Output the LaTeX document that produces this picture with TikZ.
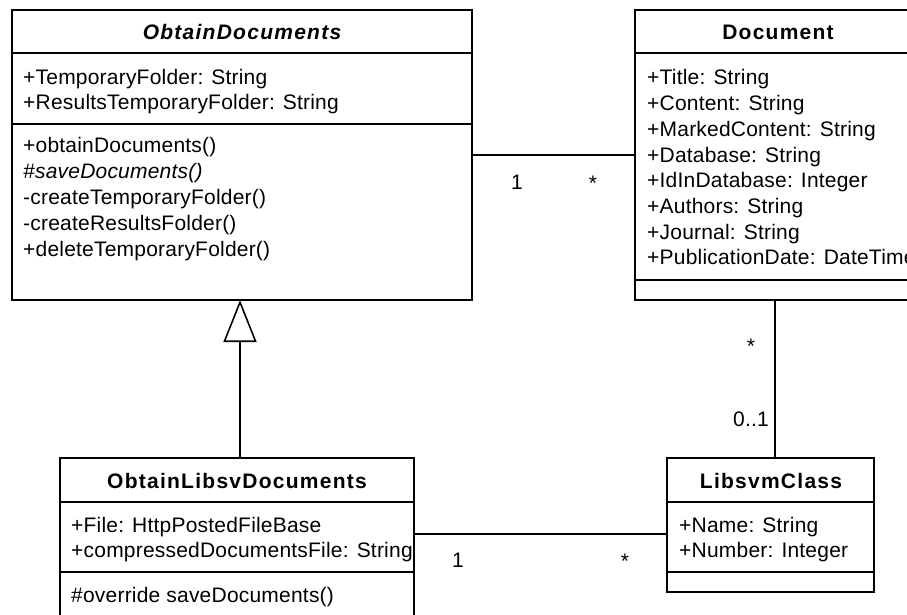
\documentclass[tikz,border=0pt]{standalone}
\usepackage{fontspec}
\setmainfont[LetterSpace=1]{Liberation Sans}
\newfontfamily\headfont[LetterSpace=6]{Liberation Sans}
\usetikzlibrary{arrows.meta}

\tikzset{
  classbox/.style={draw, line width=1.6pt, fill=white, outer sep=0pt, inner sep=0pt},
  divider/.style={line width=1.6pt},
  assoc/.style={line width=1.6pt},
  inherit/.style={line width=1.6pt, -{Triangle[open, length=42pt, width=33pt]}},
  member/.style={anchor=base west, inner sep=0pt, font=\fontsize{21}{26}\selectfont},
  classname/.style={anchor=base, inner sep=0pt, font=\headfont\bfseries\fontsize{21}{26}\selectfont},
  mult/.style={anchor=base, inner sep=0pt, font=\fontsize{21}{26}\selectfont},
}

\begin{document}
\begin{tikzpicture}[x=1pt, y=-1pt]
  \useasboundingbox (0,0) rectangle (907,615);
  \clip (0,0) rectangle (907,615);
  \fill[white] (0,0) rectangle (907,615);

  % class boxes
  \node[classbox, minimum width=460pt, minimum height=290pt] (od)  at (242,155) {};
  \node[classbox, minimum width=280pt, minimum height=290pt] (doc) at (775,155) {};
  \node[classbox, minimum width=354pt, minimum height=172pt] (oll) at (237,544) {};
  \node[classbox, minimum width=207pt, minimum height=134pt] (lc)  at (770.5,525) {};

  % compartment dividers
  \draw[divider] ([yshift=-43pt]od.north west) -- ([yshift=-43pt]od.north east);
  \draw[divider] ([yshift=-114pt]od.north west) -- ([yshift=-114pt]od.north east);
  \draw[divider] ([yshift=-43pt]doc.north west) -- ([yshift=-43pt]doc.north east);
  \draw[divider] ([yshift=-270pt]doc.north west) -- ([yshift=-270pt]doc.north east);
  \draw[divider] ([yshift=-44pt]oll.north west) -- ([yshift=-44pt]oll.north east);
  \draw[divider] ([yshift=-114pt]oll.north west) -- ([yshift=-114pt]oll.north east);
  \draw[divider] ([yshift=-44pt]lc.north west) -- ([yshift=-44pt]lc.north east);
  \draw[divider] ([yshift=-114pt]lc.north west) -- ([yshift=-114pt]lc.north east);

  % ObtainDocuments
  \node[classname] (odName) at (242,40) {\itshape ObtainDocuments};
  \node[member] (odA1) at (23,85)  {+TemporaryFolder: String};
  \node[member] (odA2) at (23,110) {+ResultsTemporaryFolder: String};
  \node[member] (odM1) at (23,153)    {+obtainDocuments()};
  \node[member] (odM2) at (23,178.75) {\itshape \#saveDocuments()};
  \node[member] (odM3) at (23,204.5)  {-createTemporaryFolder()};
  \node[member] (odM4) at (23,230.25) {-createResultsFolder()};
  \node[member] (odM5) at (23,256)    {+deleteTemporaryFolder()};

  % Document
  \node[classname] (docName) at (778,40) {Document};
  \foreach \txt [count=\i from 0] in {%
      +Title: String,
      +Content: String,
      +MarkedContent: String,
      +Database: String,
      +IdInDatabase: Integer,
      +Authors: String,
      +Journal: String,
      +PublicationDate: DateTime}
    \node[member] (docA\i) at (647,85+25.7*\i) {\txt};

  % ObtainLibsvDocuments
  \node[classname] (ollName) at (237,488) {ObtainLibsvDocuments};
  \node[member] (ollA1) at (71,532) {+File: HttpPostedFileBase};
  \node[member] (ollA2) at (71,557) {+compressedDocumentsFile: String};
  \node[member] (ollM1) at (71,602) {\#override saveDocuments()};

  % LibsvmClass
  \node[classname] (lcName) at (771,488) {LibsvmClass};
  \node[member] (lcA1) at (679,532) {+Name: String};
  \node[member] (lcA2) at (679,557) {+Number: Integer};

  % relations
  \draw[assoc] (od.east) -- (doc.west);
  \draw[assoc] (doc.south) -- (doc.south |- lc.north);
  \draw[assoc] ([yshift=-9pt]lc.west) -- ([yshift=-9pt]lc.west -| oll.east);
  \draw[inherit] ([xshift=3pt]oll.north) -- ([xshift=3pt]oll.north |- od.south);

  % multiplicities
  \node[mult] (mOd)    at (517,189) {1};
  \node[mult] (mDoc)   at (593,190) {*};
  \node[mult] (mDocV)  at (751,353) {*};
  \node[mult, anchor=base east] (mLcV) at (769,426) {0..1};
  \node[mult] (mOll)   at (458,567) {1};
  \node[mult] (mLc)    at (625,568) {*};
\end{tikzpicture}
\end{document}
